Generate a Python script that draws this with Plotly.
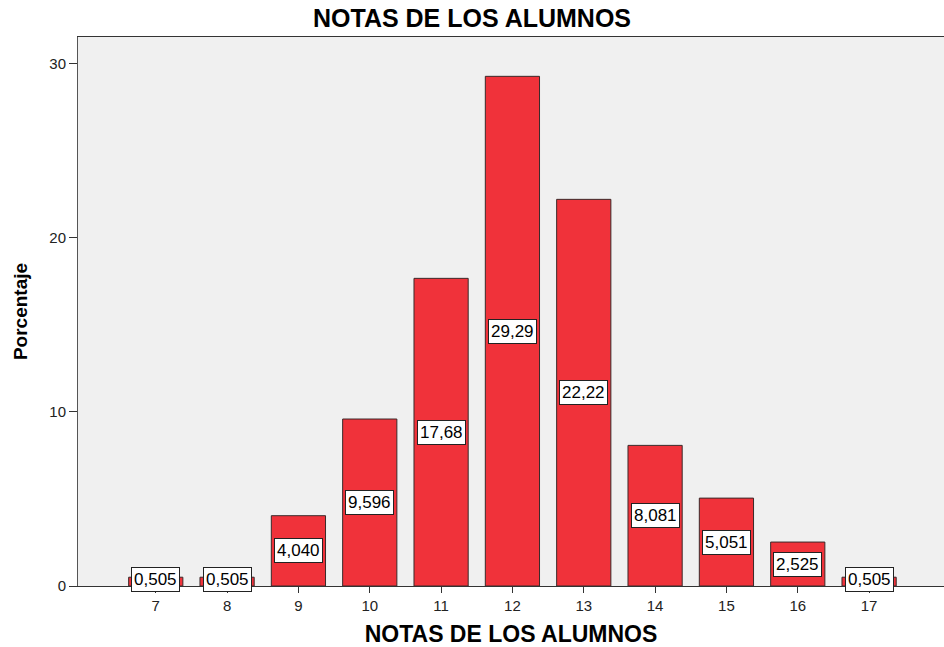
import plotly.graph_objects as go

notas = [7, 8, 9, 10, 11, 12, 13, 14, 15, 16, 17]
porcentajes = [0.505, 0.505, 4.040, 9.596, 17.68, 29.29, 22.22, 8.081, 5.051, 2.525, 0.505]
etiquetas = ["0,505", "0,505", "4,040", "9,596", "17,68", "29,29", "22,22", "8,081", "5,051", "2,525", "0,505"]
y_ticks = [0, 10, 20, 30]

FONT = "Liberation Sans, Arial, sans-serif"

fig = go.Figure()
fig.add_trace(go.Bar(
    x=notas, y=porcentajes, width=0.76,
    marker=dict(color="#F0323A", line=dict(color="#3a2a2a", width=1)),
    hoverinfo="x+y",
))

for n, v, t in zip(notas, porcentajes, etiquetas):
    fig.add_annotation(
        x=n, y=max(v / 2, 0.4), text=t, showarrow=False,
        font=dict(family=FONT, size=17, color="black"),
        bgcolor="white", bordercolor="#222222", borderwidth=1, borderpad=2,
    )

fig.update_layout(
    width=944, height=647,
    margin=dict(l=78, r=0, t=37, b=61),
    paper_bgcolor="white", plot_bgcolor="#F0F0F0",
    showlegend=False,
    title=dict(text="<b>NOTAS DE LOS ALUMNOS</b>", x=0.5, xanchor="center",
               y=0.972, yanchor="middle",
               font=dict(family=FONT, size=25, color="black")),
    font=dict(family=FONT, color="black"),
    bargap=0.24,
)
fig.update_xaxes(
    range=[5.91, 18.05], tickmode="array", tickvals=notas,
    ticktext=[str(n) for n in notas],
    ticks="outside", ticklen=6, tickcolor="#333", tickwidth=1,
    tickfont=dict(family=FONT, size=15, color="#222"),
    showgrid=False, zeroline=False,
    showline=True, linecolor="#333", linewidth=1, mirror=True,
    title=dict(text="<b>NOTAS DE LOS ALUMNOS</b>", standoff=12,
               font=dict(family=FONT, size=23, color="black")),
)
fig.update_yaxes(
    range=[0, 31.55], tickmode="array", tickvals=y_ticks,
    ticks="outside", ticklen=8, tickcolor="#333", tickwidth=1,
    tickfont=dict(family=FONT, size=15, color="#222"),
    showgrid=False, zeroline=False,
    showline=True, linecolor="#555", linewidth=1,
    title=dict(text="<b>Porcentaje</b>", standoff=16,
               font=dict(family=FONT, size=19, color="black")),
)

fig.write_html("out.html", config={"displayModeBar": False},
               post_script="document.body.style.margin='0px';")
